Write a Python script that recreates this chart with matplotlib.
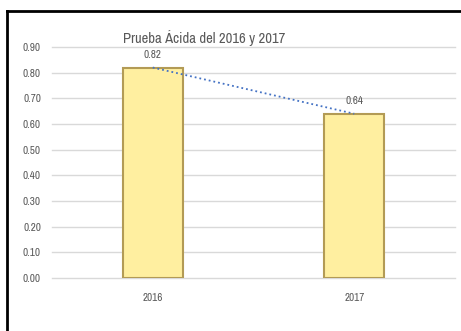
import matplotlib
matplotlib.use("Agg")
import matplotlib.pyplot as plt
from matplotlib.lines import Line2D
from matplotlib import font_manager as fm

anios = ["2016", "2017"]
prueba_acida = [0.82, 0.64]
ticks_y = [0.0, 0.1, 0.2, 0.3, 0.4, 0.5, 0.6, 0.7, 0.8, 0.9]

# buscar una fuente estrecha parecida a la del original
narrow = None
for f in fm.fontManager.ttflist:
    nombre = f.fname.lower()
    if 'narrow' in nombre and 'bold' not in nombre and 'italic' not in nombre:
        narrow = f.fname
        break
if narrow is None:
    for f in fm.fontManager.ttflist:
        nombre = f.fname.lower()
        if 'dejavusanscondensed.ttf' in nombre:
            narrow = f.fname
            break

def fp(size):
    if narrow:
        return fm.FontProperties(fname=narrow, size=size)
    return fm.FontProperties(family='DejaVu Sans', size=size)

fig = plt.figure(figsize=(4.61, 3.31), dpi=100)
ax = fig.add_axes([0.1128, 0.160, 0.8742, 0.698])

x = range(len(anios))
ax.bar(x, prueba_acida, width=0.30, color='#FFEFA0', edgecolor='#B39B55',
       linewidth=1.5, zorder=3)
ax.plot(x, prueba_acida, linestyle=':', color='#4472C4', linewidth=1.3, zorder=4)

for xi, v in zip(x, prueba_acida):
    ax.text(xi, v + 0.03, f"{v:.2f}", ha='center', va='bottom',
            fontproperties=fp(8), color='#595959')

ax.set_xlim(-0.5, 1.5)
ax.set_ylim(0, 0.9)
ax.set_yticks(ticks_y)
ax.set_yticklabels([f"{t:.2f}" for t in ticks_y], fontproperties=fp(8))
ax.set_xticks(list(x))
ax.set_xticklabels(anios, fontproperties=fp(8))
ax.tick_params(length=0, labelcolor='#595959')
ax.tick_params(axis='y', pad=8)
ax.tick_params(axis='x', pad=11)
ax.grid(axis='y', color='#D9D9D9', linewidth=1, zorder=0)
for gl in ax.get_ygridlines():
    gl.set_clip_on(False)
for s in ax.spines.values():
    s.set_visible(False)

fig.text(123 / 461, 1 - 38 / 331, "Prueba Ácida del 2016 y 2017",
         fontproperties=fp(10.5), color='#595959', ha='left', va='center')

# marco negro (solo arriba e izquierda)
fig.add_artist(Line2D([7 / 461, 1], [1 - 11 / 331, 1 - 11 / 331],
                      color='black', linewidth=2, transform=fig.transFigure))
fig.add_artist(Line2D([7 / 461, 7 / 461], [0, 1 - 11 / 331],
                      color='black', linewidth=2, transform=fig.transFigure))

fig.savefig("out.png", dpi=100)
